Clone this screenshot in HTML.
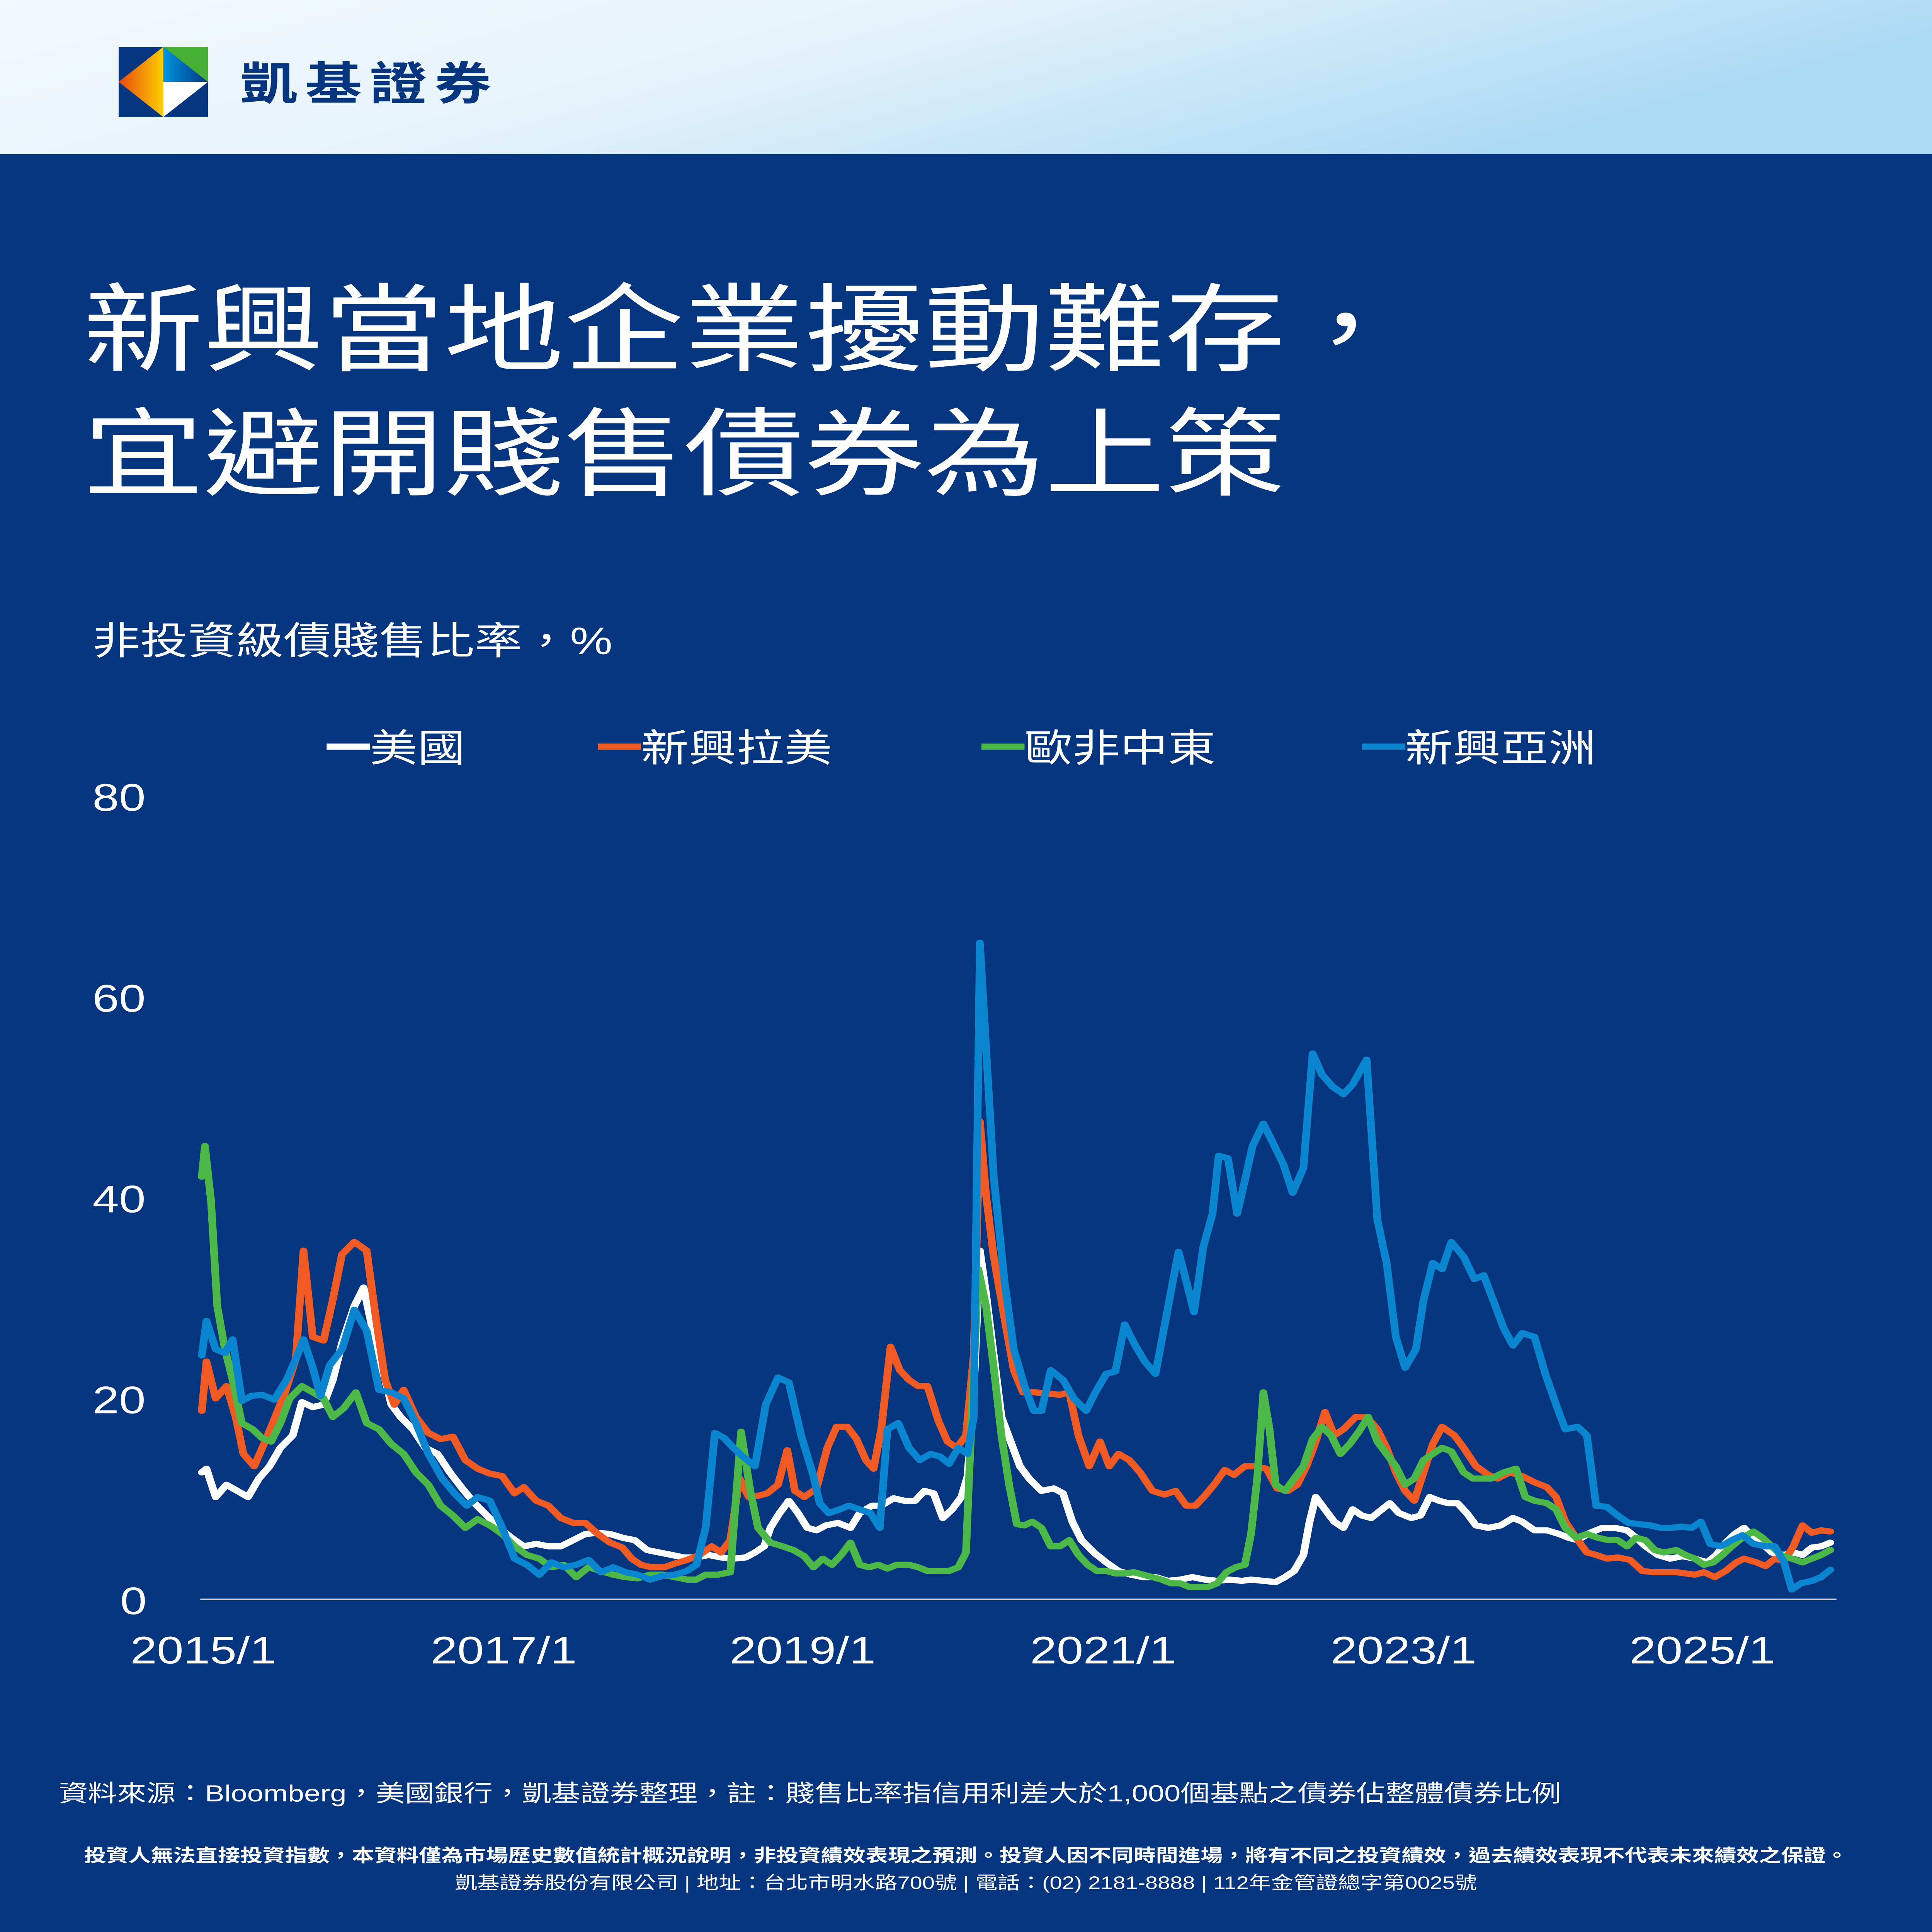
<!DOCTYPE html>
<html><head><meta charset="utf-8"><style>
html,body{margin:0;padding:0;background:#06357f;width:100%;height:100%;overflow:hidden;}
svg{display:block;position:absolute;left:0;top:0;width:100vw;height:100vh;}
text{font-family:"Liberation Sans","Noto Sans CJK TC",sans-serif;}
</style></head><body>
<svg viewBox="0 0 1254 1568" preserveAspectRatio="none" xmlns="http://www.w3.org/2000/svg">
<defs>
<linearGradient id="hd" x1="0" y1="0" x2="1" y2="0.3"><stop offset="0" stop-color="#f3f9fc"/><stop offset="0.45" stop-color="#e6f3fb"/><stop offset="1" stop-color="#a9d9f3"/></linearGradient>
<linearGradient id="og" x1="0" y1="0" x2="1" y2="0"><stop offset="0" stop-color="#e8480f"/><stop offset="1" stop-color="#ffd000"/></linearGradient>
<linearGradient id="bg2" x1="0" y1="0" x2="1" y2="0"><stop offset="0" stop-color="#0095e0"/><stop offset="1" stop-color="#063580"/></linearGradient>
</defs>
<rect width="1254" height="1568" fill="#06357f"/>
<rect width="1254" height="125" fill="url(#hd)"/>
<rect x="77" y="38" width="58" height="57" fill="#06357f"/>
<polygon points="106,38 135,38 135,66.5" fill="#46b035"/>
<polygon points="106,38 135,66.5 106,66.5" fill="url(#bg2)"/>
<polygon points="106,66.5 135,66.5 106,95" fill="#fff"/>
<polygon points="106,38 77,66.5 106,95" fill="url(#og)"/>
<text x="156" y="81" font-size="37" fill="#06357f" font-weight="bold" letter-spacing="5">凱基證券</text>
<text x="54" y="295" font-size="78" fill="#fff">新興當地企業擾動難存，</text>
<text x="54" y="396" font-size="78" fill="#fff">宜避開賤售債券為上策</text>
<text x="60" y="531" font-size="31" fill="#fff">非投資級債賤售比率，%</text>
<g font-size="31" fill="#fff">
<line x1="212" y1="606" x2="240" y2="606" stroke="#fff" stroke-width="5"/><text x="240" y="618">美國</text>
<line x1="388" y1="606" x2="416" y2="606" stroke="#f15a22" stroke-width="5"/><text x="416" y="618">新興拉美</text>
<line x1="637" y1="606" x2="665" y2="606" stroke="#4cb848" stroke-width="5"/><text x="665" y="618">歐非中東</text>
<line x1="884" y1="606" x2="912" y2="606" stroke="#0a86d0" stroke-width="5"/><text x="912" y="618">新興亞洲</text>
</g>
<g font-size="31" fill="#fff">
<text x="60" y="658">80</text><text x="60" y="821">60</text><text x="60" y="984">40</text><text x="60" y="1147">20</text><text x="78" y="1310">0</text>
<g text-anchor="middle"><text x="132" y="1350">2015/1</text><text x="327" y="1350">2017/1</text><text x="521" y="1350">2019/1</text><text x="716" y="1350">2021/1</text><text x="911" y="1350">2023/1</text><text x="1105" y="1350">2025/1</text></g>
</g>
<line x1="130" y1="1298" x2="1192" y2="1298" stroke="#c8d3e6" stroke-width="1.2"/>
<g fill="none" stroke-width="5" stroke-linejoin="round" stroke-linecap="round">
<polyline stroke="#fff" points="131,1195 134,1192 140,1215 147,1205 154,1210 161,1215 168,1200 175,1190 182,1175 190,1165 196,1138 203,1142 210,1140 216,1120 222,1090 230,1060 236,1045 242,1080 248,1110 254,1140 260,1150 268,1160 276,1175 284,1180 292,1195 300,1208 308,1220 316,1230 324,1240 332,1248 340,1255 348,1253 356,1255 364,1255 372,1250 380,1245 388,1244 396,1245 404,1248 412,1250 420,1258 428,1260 436,1262 444,1264 452,1264 460,1262 468,1264 476,1265 484,1264 490,1260 496,1255 500,1240 506,1228 512,1218 518,1228 524,1240 530,1242 536,1238 544,1236 552,1240 558,1228 566,1222 572,1222 580,1216 587,1218 594,1218 600,1210 606,1212 612,1232 618,1225 624,1215 628,1198 632,1130 636,1015 640,1050 645,1100 650,1150 656,1170 662,1190 668,1200 676,1210 684,1208 690,1212 696,1235 702,1250 710,1260 718,1268 726,1275 734,1278 742,1280 750,1280 758,1283 766,1282 774,1280 782,1282 790,1283 798,1282 806,1283 812,1282 820,1283 828,1284 834,1280 840,1275 846,1262 850,1235 854,1215 860,1225 866,1235 872,1240 878,1225 884,1230 890,1232 896,1226 902,1220 908,1228 916,1232 922,1230 928,1215 934,1218 940,1220 946,1220 952,1228 958,1238 966,1240 974,1238 982,1232 988,1235 996,1242 1004,1242 1012,1245 1018,1248 1024,1250 1032,1244 1040,1240 1048,1240 1056,1242 1062,1248 1068,1255 1076,1262 1084,1265 1092,1263 1100,1265 1108,1268 1114,1262 1120,1252 1126,1245 1132,1240 1138,1248 1144,1253 1150,1260 1158,1262 1164,1260 1170,1262 1176,1256 1182,1255 1188,1252"/>
<polyline stroke="#f15a22" points="131,1145 134,1105 140,1135 147,1125 153,1150 158,1180 165,1190 172,1170 178,1152 185,1130 192,1103 197,1015 203,1085 210,1088 216,1055 222,1018 230,1008 238,1015 244,1070 250,1120 256,1140 262,1128 270,1150 278,1163 286,1168 294,1166 302,1185 310,1192 318,1196 326,1198 334,1212 340,1207 348,1218 356,1222 364,1232 372,1236 380,1236 388,1245 396,1252 404,1256 410,1265 416,1270 423,1272 431,1272 438,1269 446,1266 454,1262 462,1255 468,1260 474,1250 480,1200 486,1215 492,1214 498,1212 505,1205 511,1177 516,1210 522,1215 530,1208 537,1175 543,1158 550,1158 556,1168 562,1185 567,1192 572,1160 578,1093 584,1112 590,1120 596,1125 602,1125 609,1153 615,1170 621,1175 627,1165 632,1100 636,910 640,970 645,1020 652,1070 658,1112 664,1130 672,1130 680,1131 688,1132 694,1130 700,1165 707,1190 714,1170 720,1190 726,1180 733,1185 740,1195 748,1210 756,1213 763,1210 770,1222 776,1222 782,1214 788,1205 795,1193 801,1197 808,1190 814,1190 822,1192 829,1208 836,1210 842,1205 848,1190 854,1170 860,1146 866,1165 872,1160 880,1150 887,1150 894,1160 900,1175 906,1195 912,1210 918,1218 924,1195 930,1172 936,1158 944,1165 950,1175 958,1190 966,1197 972,1200 980,1195 988,1198 996,1203 1004,1207 1010,1215 1016,1235 1023,1248 1030,1260 1036,1262 1043,1265 1050,1264 1058,1266 1066,1275 1073,1276 1080,1276 1088,1276 1094,1277 1100,1278 1106,1276 1113,1280 1120,1275 1127,1268 1132,1265 1140,1268 1146,1271 1152,1265 1158,1267 1164,1255 1170,1238 1176,1244 1182,1242 1188,1243"/>
<polyline stroke="#4cb848" points="131,955 133,930 137,975 141,1060 146,1095 151,1120 157,1155 164,1160 170,1167 176,1170 182,1155 188,1135 196,1125 203,1130 210,1135 216,1150 223,1143 231,1130 238,1155 246,1160 254,1172 262,1180 270,1195 278,1205 286,1222 294,1230 302,1240 310,1233 318,1238 326,1245 334,1255 342,1262 350,1265 358,1272 366,1270 374,1280 382,1272 390,1275 398,1278 406,1280 414,1281 422,1278 430,1278 438,1280 446,1282 452,1282 458,1278 466,1278 474,1276 481,1162 487,1210 492,1240 500,1252 508,1255 515,1258 522,1263 528,1272 534,1265 540,1270 546,1262 552,1252 558,1270 564,1272 570,1270 576,1273 582,1270 590,1270 596,1272 602,1275 608,1275 616,1275 622,1272 627,1260 630,1170 635,1030 640,1060 645,1110 650,1165 655,1205 660,1237 665,1238 670,1235 676,1240 682,1255 688,1255 694,1250 700,1262 706,1270 712,1275 718,1275 724,1277 730,1277 736,1276 742,1278 748,1280 754,1282 760,1285 766,1285 772,1288 778,1288 784,1288 790,1285 796,1276 802,1272 808,1270 812,1245 816,1200 820,1130 824,1160 828,1205 834,1210 840,1200 846,1190 852,1168 858,1158 864,1165 870,1180 876,1172 882,1162 888,1150 894,1170 900,1180 906,1190 912,1205 918,1200 924,1185 930,1180 936,1175 942,1178 950,1195 956,1200 962,1200 968,1200 976,1195 984,1192 990,1215 996,1218 1004,1220 1010,1225 1016,1240 1023,1248 1030,1245 1037,1248 1044,1250 1050,1250 1056,1255 1062,1248 1068,1250 1074,1258 1080,1260 1088,1258 1094,1262 1100,1265 1106,1270 1112,1268 1118,1262 1124,1255 1131,1248 1138,1243 1144,1248 1150,1255 1156,1262 1163,1265 1170,1268 1176,1265 1182,1262 1188,1258"/>
<polyline stroke="#0a86d0" points="131,1100 134,1072 140,1095 146,1098 151,1087 157,1137 163,1133 170,1132 178,1136 186,1120 193,1100 197,1087 203,1110 208,1133 214,1108 222,1095 230,1063 238,1080 246,1128 254,1130 262,1135 270,1155 278,1180 287,1200 295,1212 303,1222 310,1215 318,1218 326,1240 334,1265 342,1270 350,1278 358,1268 366,1272 374,1270 382,1266 390,1276 398,1272 406,1276 414,1278 422,1282 430,1279 438,1278 446,1275 452,1270 458,1240 464,1163 470,1167 476,1175 482,1182 490,1190 497,1140 505,1118 512,1122 520,1165 528,1198 532,1220 538,1228 545,1225 551,1222 558,1225 565,1228 571,1240 576,1160 583,1155 590,1175 597,1185 604,1180 610,1182 616,1188 622,1175 628,1180 632,1150 636,765 640,850 645,955 652,1040 658,1095 665,1125 671,1145 676,1145 682,1112 690,1120 697,1135 705,1145 711,1130 718,1115 724,1113 730,1075 736,1090 743,1105 750,1115 756,1075 762,1035 765,1016 770,1040 775,1065 781,1012 787,985 791,938 797,940 803,985 808,958 813,930 820,912 826,927 833,945 839,968 846,948 852,855 858,872 865,882 872,888 878,880 887,860 894,990 900,1025 906,1085 912,1110 919,1095 924,1055 930,1025 936,1030 942,1008 950,1020 957,1038 963,1035 970,1058 976,1078 982,1092 988,1082 996,1085 1003,1115 1010,1140 1016,1160 1024,1158 1030,1165 1036,1222 1043,1223 1050,1230 1057,1236 1064,1237 1071,1238 1078,1240 1085,1240 1091,1239 1098,1240 1104,1235 1110,1253 1117,1255 1124,1250 1131,1246 1138,1253 1146,1255 1152,1255 1158,1268 1163,1290 1169,1285 1176,1283 1182,1280 1188,1274"/>
</g>
<text x="38" y="1462" font-size="19" fill="#fff">資料來源：Bloomberg，美國銀行，凱基證券整理，註：賤售比率指信用利差大於1,000個基點之債券佔整體債券比例</text>
<text x="627" y="1511" font-size="14.5" fill="#fff" font-weight="bold" text-anchor="middle">投資人無法直接投資指數，本資料僅為市場歷史數值統計概況說明，非投資績效表現之預測。投資人因不同時間進場，將有不同之投資績效，過去績效表現不代表未來績效之保證。</text>
<text x="627" y="1533" font-size="14.5" fill="#fff" text-anchor="middle">凱基證券股份有限公司 | 地址：台北市明水路700號 | 電話：(02) 2181-8888 | 112年金管證總字第0025號</text>
</svg>
</body></html>
